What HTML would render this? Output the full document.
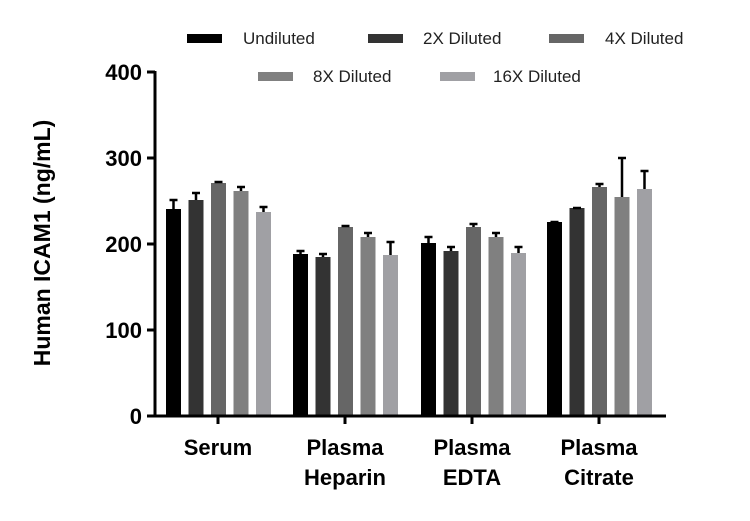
<!DOCTYPE html><html><head><style>body{margin:0;background:#fff}</style></head><body>
<svg width="750" height="516" xmlns="http://www.w3.org/2000/svg" font-family="Liberation Sans, sans-serif">
<g font-size="17" fill="#222">
<rect x="187" y="34" width="35" height="9" fill="#000"/><text x="243" y="44">Undiluted</text>
<rect x="368" y="34" width="35" height="9" fill="#333"/><text x="423" y="44">2X Diluted</text>
<rect x="549" y="34" width="35" height="9" fill="#666"/><text x="605" y="44">4X Diluted</text>
<rect x="258" y="72" width="35" height="9" fill="#808080"/><text x="313" y="82">8X Diluted</text>
<rect x="440" y="72" width="35" height="9" fill="#a0a0a4"/><text x="493" y="82">16X Diluted</text>
</g>
<g>
<rect x="166" y="209" width="15" height="207" fill="#000"/>
<rect x="188.5" y="200" width="15" height="216" fill="#333"/>
<rect x="211" y="183" width="15" height="233" fill="#666"/>
<rect x="233.5" y="191" width="15" height="225" fill="#808080"/>
<rect x="256" y="212" width="15" height="204" fill="#a0a0a4"/>
<rect x="293" y="254" width="15" height="162" fill="#000"/>
<rect x="315.5" y="257" width="15" height="159" fill="#333"/>
<rect x="338" y="227" width="15" height="189" fill="#666"/>
<rect x="360.5" y="237" width="15" height="179" fill="#808080"/>
<rect x="383" y="255" width="15" height="161" fill="#a0a0a4"/>
<rect x="421" y="243" width="15" height="173" fill="#000"/>
<rect x="443.5" y="251" width="15" height="165" fill="#333"/>
<rect x="466" y="227" width="15" height="189" fill="#666"/>
<rect x="488.5" y="237" width="15" height="179" fill="#808080"/>
<rect x="511" y="253" width="15" height="163" fill="#a0a0a4"/>
<rect x="547" y="222" width="15" height="194" fill="#000"/>
<rect x="569.5" y="208" width="15" height="208" fill="#333"/>
<rect x="592" y="187" width="15" height="229" fill="#666"/>
<rect x="614.5" y="197" width="15" height="219" fill="#808080"/>
<rect x="637" y="189" width="15" height="227" fill="#a0a0a4"/>
</g>
<path stroke="#000" stroke-width="2.5" fill="none" d="
M173.5 209V200M169.5 200H177.5
M196 200V193M192 193H200
M218.5 183V182M214.5 182H222.5
M241 191V187M237 187H245
M263.5 212V207M259.5 207H267.5
M300.5 254V251M296.5 251H304.5
M323 257V254M319 254H327
M345.5 227V226M341.5 226H349.5
M368 237V233M364 233H372
M390.5 255V242M386.5 242H394.5
M428.5 243V237M424.5 237H432.5
M451 251V247M447 247H455
M473.5 227V224M469.5 224H477.5
M496 237V233M492 233H500
M518.5 253V247M514.5 247H522.5
M554.5 222V222M550.5 222H558.5
M577 208V208M573 208H581
M599.5 187V184M595.5 184H603.5
M622 197V158M618 158H626
M644.5 189V171M640.5 171H648.5"/>
<g stroke="#000" stroke-width="3" fill="none">
<line x1="155" y1="71" x2="155" y2="417"/>
<line x1="154" y1="416" x2="666" y2="416"/>
<line x1="147" y1="72" x2="155" y2="72"/><line x1="147" y1="158" x2="155" y2="158"/><line x1="147" y1="244" x2="155" y2="244"/><line x1="147" y1="330" x2="155" y2="330"/><line x1="147" y1="416" x2="155" y2="416"/>
<line x1="218" y1="416" x2="218" y2="424"/><line x1="345" y1="416" x2="345" y2="424"/><line x1="472" y1="416" x2="472" y2="424"/><line x1="599" y1="416" x2="599" y2="424"/>
</g>
<g font-size="22" font-weight="bold" text-anchor="end" fill="#000">
<text x="142" y="80">400</text><text x="142" y="166">300</text><text x="142" y="252">200</text><text x="142" y="338">100</text><text x="142" y="424">0</text>
</g>
<g font-size="22" font-weight="bold" text-anchor="middle" fill="#000">
<text x="218" y="455">Serum</text>
<text x="345" y="455">Plasma</text><text x="345" y="485">Heparin</text>
<text x="472" y="455">Plasma</text><text x="472" y="485">EDTA</text>
<text x="599" y="455">Plasma</text><text x="599" y="485">Citrate</text>
</g>
<text transform="translate(50,243) rotate(-90)" font-size="23" font-weight="bold" text-anchor="middle" fill="#000">Human ICAM1 (ng/mL)</text>
</svg></body></html>
